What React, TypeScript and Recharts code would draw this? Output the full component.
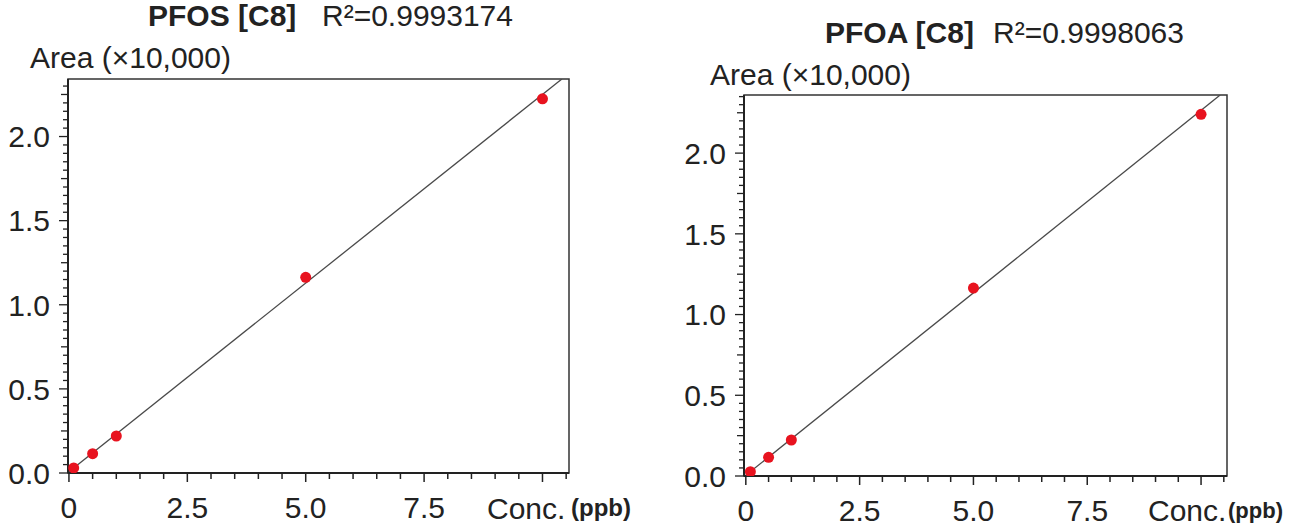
import React from 'react';
import { ScatterChart, Scatter, XAxis, YAxis, ReferenceArea } from 'recharts';

const FONT = '"Liberation Sans", Arial, Helvetica, sans-serif';
const INK = '#222';

// calibration standards, concentration in ppb
const CONC = [0.1, 0.5, 1, 5, 10];
// peak area (x10,000)
const PFOS_AREA = [0.03, 0.115, 0.22, 1.163, 2.224];
const PFOA_AREA = [0.027, 0.116, 0.223, 1.164, 2.24];

// fitted calibration line end points
const PFOS_FIT_X = [0, 10.41];
const PFOS_FIT_Y = [0.008, 2.342];
const PFOA_FIT_X = [0, 10.42];
const PFOA_FIT_Y = [0.004, 2.36];

// tick labels
const X_MAJOR = [0, 2.5, 5, 7.5];
const X_LABELS = ['0', '2.5', '5.0', '7.5'];
const Y_MAJOR = [0, 0.5, 1, 1.5, 2];
const Y_LABELS = ['0.0', '0.5', '1.0', '1.5', '2.0'];

// minor tick marks every 0.5 on x, every 0.05 on y
const xMinorTicks: number[] = [];
for (let i = 0; i <= 21; i++) xMinorTicks.push(i / 2);
const yMinorTicks = (max: number) => {
  const out: number[] = [];
  for (let i = 0; i * 0.05 <= max + 1e-9; i++) out.push(Math.round(i * 5) / 100);
  return out;
};

const isMultiple = (v: number, step: number) => Math.abs(v / step - Math.round(v / step)) < 1e-6;

function XTick(props: any) {
  const { x, y, payload } = props;
  const v = payload.value;
  const idx = X_MAJOR.findIndex(m => Math.abs(m - v) < 1e-6);
  const len = isMultiple(v, 2.5) ? 9 : 6;
  return (
    <g>
      <line x1={x} x2={x} y1={y} y2={y + len} stroke={INK} strokeWidth={1.5} />
      {idx >= 0 && (
        <text x={x} y={y + 45} textAnchor="middle" fontSize={30} fill={INK} fontFamily={FONT}>
          {X_LABELS[idx]}
        </text>
      )}
    </g>
  );
}

function YTick(props: any) {
  const { x, y, payload } = props;
  const v = payload.value;
  const idx = Y_MAJOR.findIndex(m => Math.abs(m - v) < 1e-6);
  const len = isMultiple(v, 0.5) ? 9 : isMultiple(v, 0.25) ? 7 : 5;
  return (
    <g>
      <line x1={x} x2={x - len} y1={y} y2={y} stroke={INK} strokeWidth={1.3} />
      {idx >= 0 && (
        <text x={x - 18} y={y} dy="0.36em" textAnchor="end" fontSize={30} fill={INK} fontFamily={FONT}>
          {Y_LABELS[idx]}
        </text>
      )}
    </g>
  );
}

interface PanelProps {
  left: number;
  width: number;
  margin: { top: number; right: number; bottom: number; left: number };
  xDomain: [number, number];
  yMax: number;
  area: number[];
  fitX: number[];
  fitY: number[];
}

function CalPanel({ left, width, margin, xDomain, yMax, area, fitX, fitY }: PanelProps) {
  const points = CONC.map((c, i) => ({ x: c, y: area[i] }));
  const fit = fitX.map((c, i) => ({ x: c, y: fitY[i] }));
  return (
    <div style={{ position: 'absolute', left, top: 0 }}>
      <ScatterChart width={width} height={531} margin={margin}>
        <XAxis
          type="number"
          dataKey="x"
          domain={xDomain}
          allowDataOverflow
          ticks={xMinorTicks}
          interval={0}
          height={50}
          tickSize={0}
          tickMargin={0}
          tick={<XTick />}
          axisLine={{ stroke: INK, strokeWidth: 2 }}
        />
        <YAxis
          type="number"
          dataKey="y"
          domain={[0, yMax]}
          allowDataOverflow
          ticks={yMinorTicks(yMax)}
          interval={0}
          width={60}
          tickSize={0}
          tickMargin={0}
          tick={<YTick />}
          axisLine={{ stroke: INK, strokeWidth: 2 }}
        />
        <ReferenceArea
          x1={xDomain[0]}
          x2={xDomain[1]}
          y1={0}
          y2={yMax}
          fill="none"
          fillOpacity={0}
          stroke="#333"
          strokeWidth={1.5}
          ifOverflow="visible"
        />
        <Scatter
          data={fit}
          line={{ stroke: '#4a4a4a', strokeWidth: 1.3 }}
          shape={() => <g />}
          isAnimationActive={false}
        />
        <Scatter
          data={points}
          shape={(p: any) => <circle cx={p.cx} cy={p.cy} r={5.5} fill="#e8131f" />}
          isAnimationActive={false}
        />
      </ScatterChart>
    </div>
  );
}

export default function App() {
  return (
    <div
      style={{
        position: 'fixed',
        left: 0,
        top: 0,
        width: 1296,
        height: 531,
        background: '#fff',
        fontFamily: FONT,
        overflow: 'hidden',
      }}
    >
      <CalPanel
        left={0}
        width={640}
        margin={{ top: 79, right: 71, bottom: 8, left: 8 }}
        xDomain={[-0.02, 10.56]}
        yMax={2.342}
        area={PFOS_AREA}
        fitX={PFOS_FIT_X}
        fitY={PFOS_FIT_Y}
      />
      <CalPanel
        left={650}
        width={646}
        margin={{ top: 95, right: 69, bottom: 5, left: 34 }}
        xDomain={[-0.04, 10.57]}
        yMax={2.36}
        area={PFOA_AREA}
        fitX={PFOA_FIT_X}
        fitY={PFOA_FIT_Y}
      />
      <svg
        width={1296}
        height={531}
        style={{ position: 'absolute', left: 0, top: 0, pointerEvents: 'none' }}
        fontFamily={FONT}
        fill={INK}
      >
        <text x={148} y={26} fontSize={30} fontWeight="bold">PFOS [C8]</text>
        <text x={322} y={26} fontSize={30}>R²=0.9993174</text>
        <text x={30} y={68} fontSize={30}>Area (×10,000)</text>
        <text x={487} y={519} fontSize={30}>Conc.</text>
        <text x={571} y={516} fontSize={24} fontWeight="bold">(ppb)</text>

        <text x={825} y={43} fontSize={30} fontWeight="bold">PFOA [C8]</text>
        <text x={993} y={43} fontSize={30}>R²=0.9998063</text>
        <text x={710} y={85} fontSize={30}>Area (×10,000)</text>
        <text x={1148} y={521} fontSize={30}>Conc.</text>
        <text x={1228} y={518} fontSize={22} fontWeight="bold">(ppb)</text>
      </svg>
    </div>
  );
}
